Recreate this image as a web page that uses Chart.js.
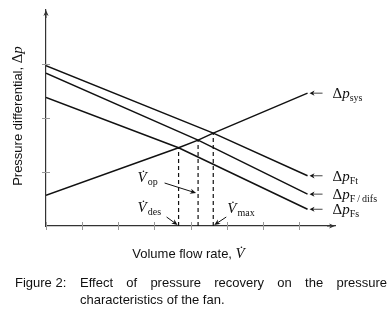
<!DOCTYPE html>
<html>
<head>
<meta charset="utf-8">
<script src="https://cdn.jsdelivr.net/npm/chart.js@4"></script>
<style>
body { margin: 0; background: #fff; }
#wrap { position: relative; width: 392px; height: 310px; }
#cap { position: absolute; left: 15px; top: 274px; width: 372px; display: flex;
       font: 13px "Liberation Sans", Arial, sans-serif; color: #111; line-height: 17px; }
#cap .lab { width: 65px; flex: none; }
#cap .txt { flex: 1; text-align: justify; text-align-last: left; }
</style>
</head>
<body>
<div id="wrap">
<canvas id="fan" width="392" height="310"></canvas>
<div id="cap"><span class="lab">Figure 2:</span><span class="txt">Effect of pressure recovery on the pressure characteristics of the fan.</span></div>
</div>
<script>
// fan / system curves (flow rate and pressure in tick units)
var flow_Ft   = [0, 4.63, 7.24];
var dp_Ft     = [2.97, 1.72, 0.93];
var flow_difs = [0, 4.21, 7.24];
var dp_difs   = [2.83, 1.59, 0.59];
var flow_Fs   = [0, 3.67, 7.24];
var dp_Fs     = [2.38, 1.45, 0.31];
var flow_sys  = [0, 3.67, 4.21, 4.63, 7.24];
var dp_sys    = [0.57, 1.45, 1.59, 1.72, 2.46];

// operating points: des, op, max
var mark_flow = [3.67, 4.21, 4.63];
var mark_dp   = [1.45, 1.59, 1.72];

var xTicks = [0, 1, 2, 3, 4, 5, 6, 7];
var yTicks = [1, 2, 3];

var serif = '"Liberation Serif", "DejaVu Serif", serif';
var sans = '"Liberation Sans", Arial, sans-serif';

function toPoints(xs, ys) {
	return xs.map(function(x, i) { return { x: x, y: ys[i] }; });
}

function lineSet(xs, ys) {
	return { data: toPoints(xs, ys), showLine: true, borderColor: '#111', borderWidth: 1.5,
	         pointRadius: 0, tension: 0, fill: false };
}

function dashSet(i) {
	return { data: [ { x: mark_flow[i], y: 0 }, { x: mark_flow[i], y: mark_dp[i] } ], showLine: true,
	         borderColor: '#111', borderWidth: 1.2, borderDash: [4, 3], pointRadius: 0, fill: false };
}

function arrow(ctx, x1, y1, x2, y2, size) {
	// line from (x1,y1) with a filled head at (x2,y2)
	var a = Math.atan2(y2 - y1, x2 - x1);
	size = size || 6;
	ctx.beginPath();
	ctx.moveTo(x1, y1);
	ctx.lineTo(x2 - Math.cos(a) * size * 0.6, y2 - Math.sin(a) * size * 0.6);
	ctx.stroke();
	ctx.beginPath();
	ctx.moveTo(x2, y2);
	ctx.lineTo(x2 - size * Math.cos(a) + 2.6 * Math.sin(a), y2 - size * Math.sin(a) - 2.6 * Math.cos(a));
	ctx.lineTo(x2 - size * Math.cos(a) * 0.7, y2 - size * Math.sin(a) * 0.7);
	ctx.lineTo(x2 - size * Math.cos(a) - 2.6 * Math.sin(a), y2 - size * Math.sin(a) + 2.6 * Math.cos(a));
	ctx.closePath();
	ctx.fill();
}

// draw a run of text pieces, each with its own font and baseline shift
function drawParts(ctx, x, y, parts) {
	parts.forEach(function(p) {
		ctx.font = p.f;
		ctx.fillText(p.t, x, y + (p.dy || 0));
		x += ctx.measureText(p.t).width + (p.gap || 0);
	});
	return x;
}

function partsWidth(ctx, parts) {
	var w = 0;
	parts.forEach(function(p) { ctx.font = p.f; w += ctx.measureText(p.t).width + (p.gap || 0); });
	return w;
}

function dpLabel(sub) {
	return [ { t: '\u0394', f: '15px ' + serif }, { t: 'p', f: 'italic 15px ' + serif },
	         { t: sub, f: '10px ' + serif, dy: 3 } ];
}

function vLabel(sub) {
	return [ { t: 'V\u0307', f: 'italic 15px ' + serif, gap: 1 }, { t: sub, f: '10px ' + serif, dy: 3 } ];
}

var decorPlugin = {
	id: 'decor',
	afterDraw: function(chart) {
		var ctx = chart.ctx;
		var xs = chart.scales.x, ys = chart.scales.y;
		var x0 = xs.getPixelForValue(0), y0 = ys.getPixelForValue(0);
		var ca = chart.chartArea;
		ctx.save();

		// tick marks across the axes
		ctx.strokeStyle = '#999';
		ctx.lineWidth = 1;
		yTicks.forEach(function(v) {
			var py = Math.round(ys.getPixelForValue(v)) + 0.5;
			ctx.beginPath(); ctx.moveTo(x0 - 4, py); ctx.lineTo(x0 + 4, py); ctx.stroke();
		});
		xTicks.forEach(function(v) {
			var px = Math.round(xs.getPixelForValue(v)) + 0.5;
			ctx.beginPath(); ctx.moveTo(px, y0 - 4); ctx.lineTo(px, y0 + 4); ctx.stroke();
		});

		// axis arrow heads
		ctx.fillStyle = '#333';
		ctx.strokeStyle = '#333';
		arrow(ctx, x0, ca.top + 8, x0, ca.top, 6);
		arrow(ctx, ca.right - 8, y0, ca.right, y0, 6);

		// right-hand curve labels
		ctx.fillStyle = '#111';
		ctx.strokeStyle = '#444';
		ctx.lineWidth = 1;
		ctx.textBaseline = 'alphabetic';
		var ends = [ [flow_sys, dp_sys, 'sys'], [flow_Ft, dp_Ft, 'Ft'], [flow_difs, dp_difs, 'F\u2009/\u2009difs'], [flow_Fs, dp_Fs, 'Fs'] ];
		ends.forEach(function(e) {
			var n = e[0].length - 1;
			var px = xs.getPixelForValue(e[0][n]), py = ys.getPixelForValue(e[1][n]);
			arrow(ctx, px + 15, py, px + 2, py, 5);
			drawParts(ctx, px + 25, py + 5, dpLabel(e[2]));
		});

		// operating point annotations
		var pDes = xs.getPixelForValue(mark_flow[0]);
		var pOp = xs.getPixelForValue(mark_flow[1]);
		var pMax = xs.getPixelForValue(mark_flow[2]);
		ctx.strokeStyle = '#111';
		ctx.fillStyle = '#111';
		drawParts(ctx, pDes - 41, y0 - 44, vLabel('op'));
		arrow(ctx, pDes - 14, y0 - 43, pOp - 2, y0 - 33, 6);
		drawParts(ctx, pDes - 41, y0 - 14, vLabel('des'));
		arrow(ctx, pDes - 12, y0 - 9, pDes - 1, y0 - 1, 6);
		drawParts(ctx, pMax + 14, y0 - 13, vLabel('max'));
		arrow(ctx, pMax + 13, y0 - 9, pMax + 1, y0 - 1, 6);

		// axis titles
		ctx.fillStyle = '#111';
		var xt = [ { t: 'Volume flow rate, ', f: '13px ' + sans }, { t: 'V\u0307', f: 'italic 15px ' + serif } ];
		var w = partsWidth(ctx, xt);
		drawParts(ctx, (ca.left + ca.right) / 2 - w / 2 - 2, 258, xt);

		var yt = [ { t: 'Pressure differential, ', f: '13px ' + sans }, { t: '\u0394', f: '15px ' + serif }, { t: 'p', f: 'italic 15px ' + serif } ];
		w = partsWidth(ctx, yt);
		ctx.translate(22, 116);
		ctx.rotate(-Math.PI / 2);
		drawParts(ctx, -w / 2, 0, yt);
		ctx.restore();
	}
};

var cfg = {
	type: 'scatter',
	data: {
		datasets: [ lineSet(flow_Ft, dp_Ft), lineSet(flow_difs, dp_difs), lineSet(flow_Fs, dp_Fs),
		            lineSet(flow_sys, dp_sys), dashSet(0), dashSet(1), dashSet(2) ]
	},
	options: {
		responsive: false,
		animation: false,
		layout: { padding: { left: 46, right: 57, top: 10, bottom: 84 } },
		plugins: { legend: { display: false }, tooltip: { enabled: false } },
		scales: {
			x: { type: 'linear', min: 0, max: 8, ticks: { display: false }, grid: { display: false },
			     border: { display: true, color: '#333', width: 1.2 },
			     afterFit: function(s) { s.height = 0; } },
			y: { type: 'linear', min: 0, max: 4, ticks: { display: false }, grid: { display: false },
			     border: { display: true, color: '#333', width: 1.2 },
			     afterFit: function(s) { s.width = 0; } }
		}
	},
	plugins: [ decorPlugin ]
};

new Chart(document.getElementById('fan'), cfg);
</script>
</body>
</html>
